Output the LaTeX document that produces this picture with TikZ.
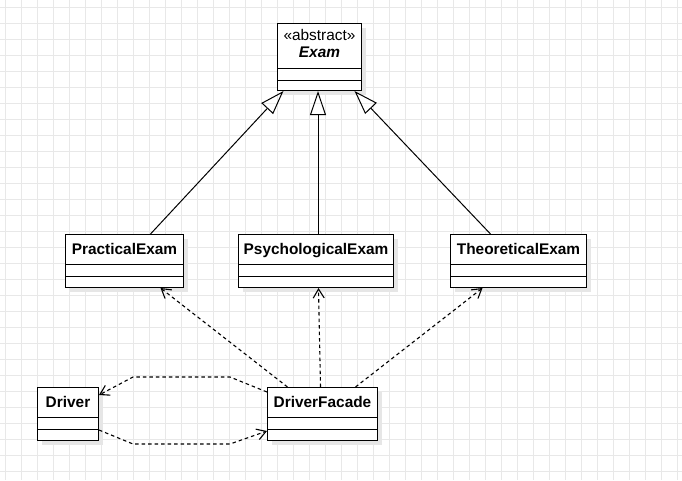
\documentclass[tikz,border=0pt]{standalone}
\usepackage{fontspec}
\setmainfont{Liberation Sans}
\usepackage{xcolor}
\definecolor{cLine}{HTML}{000000}
\definecolor{cGrid}{HTML}{E8E8E8}
\definecolor{cShadow}{HTML}{E6E6E6}
\usetikzlibrary{positioning,arrows.meta,calc}
\tikzset{
  class-box/.style={draw=cLine,line width=1pt,fill=white,rectangle,inner sep=0pt,
    minimum height=53pt,anchor=north west},
  class-name/.style={font=\fontsize{15.4}{17}\selectfont\bfseries,inner sep=0pt,anchor=base},
  class-shadow/.style={fill=cShadow},
  class-line/.style={draw=cLine,line width=1pt},
  grid-line/.style={draw=cGrid,line width=0.8pt},
  arrow-inherit/.style={-{Triangle[open,length=24pt,width=16pt]},line width=1pt,draw=cLine},
  arrow-dep/.style={-{Straight Barb[length=9pt,width=11pt]},line width=1.1pt,draw=cLine,
    dash pattern=on 3.5pt off 3pt},
}
\begin{document}
\begin{tikzpicture}[x=1pt,y=-1pt]
  \useasboundingbox (0,0) rectangle (682,480);
  % background grid
  \foreach \gx in {5,21,...,677} \draw[grid-line] (\gx,0) -- (\gx,480);
  \foreach \gy in {7,23,...,475} \draw[grid-line] (0,\gy) -- (682,\gy);

  % abstract base class
  \fill[class-shadow] (282,28) rectangle ++(84,67);
  \node[class-box,minimum width=84pt,minimum height=67pt] (exam) at (277,23) {};
  \node[class-name,font=\fontsize{15.4}{17}\selectfont] (exam-stereo)
    at ($(exam.north)+(0,17.5)$) {«abstract»};
  \node[class-name,font=\fontsize{15.4}{17}\selectfont\bfseries\itshape] (exam-name)
    at ($(exam.north)+(0,34.5)$) {Exam};
  \draw[class-line] ($(exam.north west)+(0,45)$) -- ($(exam.north east)+(0,45)$);
  \draw[class-line] ($(exam.north west)+(0,57)$) -- ($(exam.north east)+(0,57)$);

  % concrete classes
  \foreach \nm/\x/\y/\w/\lbl in {practical/65/234/118/PracticalExam,
      psych/238/234/155/PsychologicalExam,theor/450/234/136/TheoreticalExam,
      driver/37/387/61/Driver,facade/267/387/110/DriverFacade}{
    \fill[class-shadow] (\x+5,\y+5) rectangle ++(\w,53);
    \node[class-box,minimum width=\w] (\nm) at (\x,\y) {};
    \node[class-name] (\nm-name) at ($(\nm.north)+(0,20.5)$) {\lbl};
    \draw[class-line] ($(\nm.north west)+(0,30)$) -- ($(\nm.north east)+(0,30)$);
    \draw[class-line] ($(\nm.north west)+(0,42)$) -- ($(\nm.north east)+(0,42)$);
  }

  % generalisation
  \draw[arrow-inherit] ($(practical.north)+(26,0)$) -- ($(exam.south)+(-36,0)$);
  \draw[arrow-inherit] ($(psych.north)+(2,0)$) -- ($(exam.south)+(-1.5,0)$);
  \draw[arrow-inherit] ($(theor.north)+(-28,0)$) -- ($(exam.south)+(35,0)$);

  % dependencies
  \draw[arrow-dep] ($(facade.north)+(-35,0)$) -- ($(practical.south)+(36,0)$);
  \draw[arrow-dep] ($(facade.north)+(-2,0)$) -- ($(psych.south)+(2.5,0)$);
  \draw[arrow-dep] ($(facade.north)+(33,0)$) -- ($(theor.south)+(-36,0)$);
  \draw[arrow-dep] ($(facade.north west)+(0,5)$) -- (230,377) -- (133,377)
    -- ($(driver.north east)+(0,8)$);
  \draw[arrow-dep] ($(driver.north east)+(0,43)$) -- (133,444) -- (230,444)
    -- ($(facade.north west)+(0,44)$);
\end{tikzpicture}
\end{document}
